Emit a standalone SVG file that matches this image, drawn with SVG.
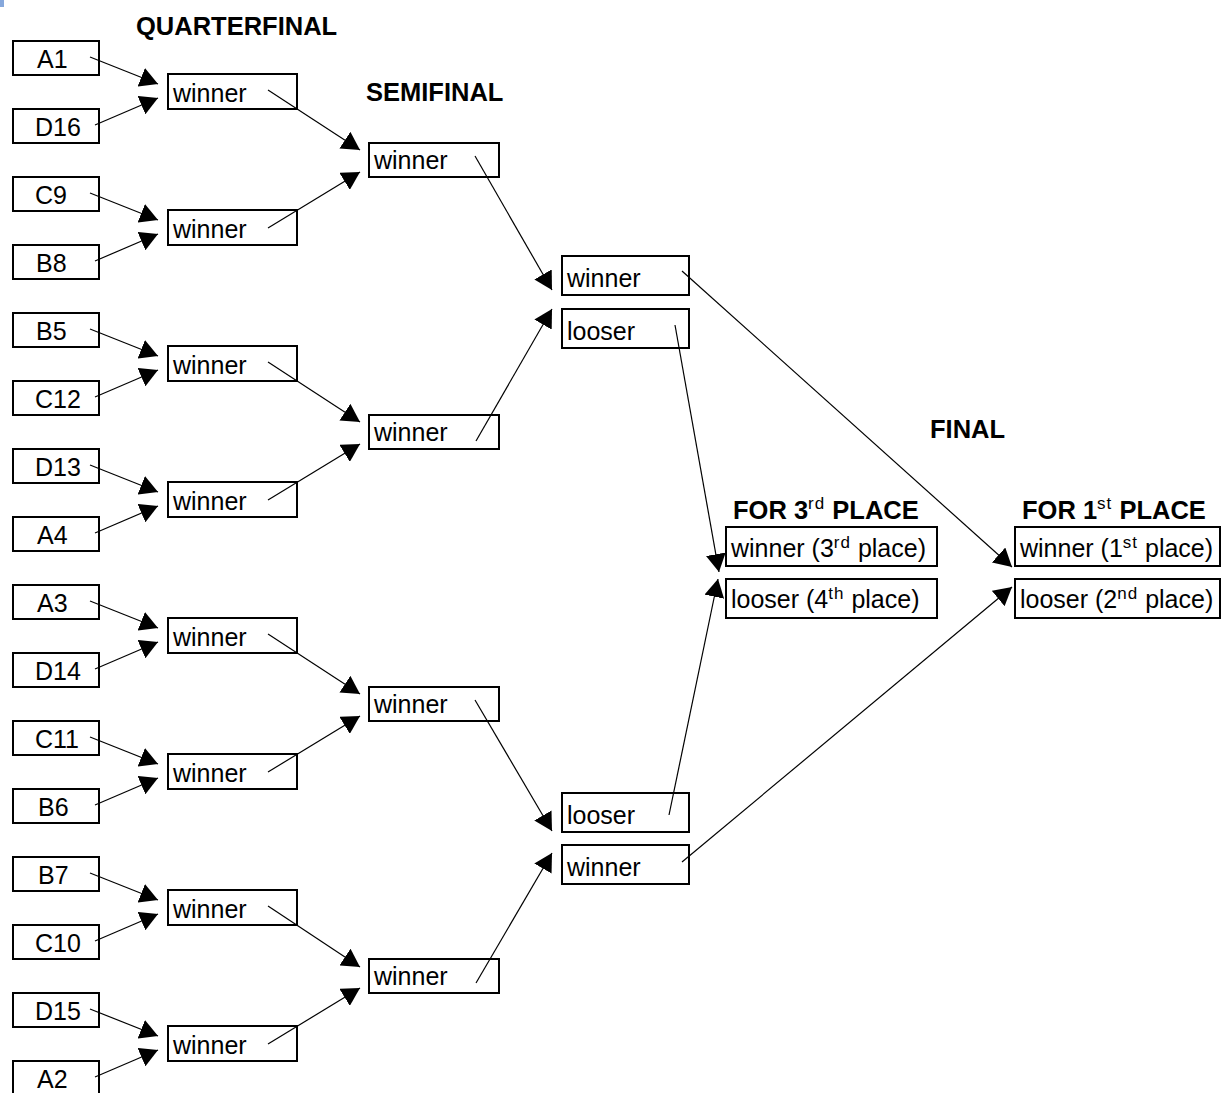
<svg xmlns="http://www.w3.org/2000/svg" width="1222" height="1093" viewBox="0 0 1222 1093">
<style>
.box{fill:#fff;stroke:#000;stroke-width:2}
.t{font-family:"Liberation Sans",Arial,sans-serif;font-size:25px;fill:#000}
.h{font-family:"Liberation Sans",Arial,sans-serif;font-size:25.5px;font-weight:bold;fill:#000}
.sup{font-size:17px;font-weight:normal;letter-spacing:1px}
.c line{stroke:#000;stroke-width:1.2;fill:none;marker-end:url(#ah)}
</style>
<defs>
<marker id="ah" markerUnits="userSpaceOnUse" viewBox="0 0 18 20" markerWidth="18" markerHeight="20" refX="18" refY="10" orient="auto">
<path d="M0,0 L18,10 L0,20 z" fill="#000"/>
</marker>
</defs>
<rect width="1222" height="1093" fill="#fff"/>
<rect x="0" y="0" width="4" height="7" fill="#86a8dc"/>

<g id="headers">
<text class="h" x="136" y="35">QUARTERFINAL</text>
<text class="h" x="366" y="101">SEMIFINAL</text>
<text class="h" x="930" y="438">FINAL</text>
<text class="h" x="733" y="519">FOR 3<tspan class="sup" dy="-10">rd</tspan><tspan dy="10"> PLACE</tspan></text>
<text class="h" x="1022" y="519">FOR 1<tspan class="sup" dy="-10">st</tspan><tspan dy="10"> PLACE</tspan></text>
</g>

<g id="seed-A1"><rect class="box" x="13" y="41" width="86" height="34"/><text class="t" x="37" y="68">A1</text></g>
<g id="seed-D16"><rect class="box" x="13" y="109" width="86" height="34"/><text class="t" x="35" y="136">D16</text></g>
<g id="seed-C9"><rect class="box" x="13" y="177" width="86" height="34"/><text class="t" x="35" y="204">C9</text></g>
<g id="seed-B8"><rect class="box" x="13" y="245" width="86" height="34"/><text class="t" x="36" y="272">B8</text></g>
<g id="seed-B5"><rect class="box" x="13" y="313" width="86" height="34"/><text class="t" x="36" y="340">B5</text></g>
<g id="seed-C12"><rect class="box" x="13" y="381" width="86" height="34"/><text class="t" x="35" y="408">C12</text></g>
<g id="seed-D13"><rect class="box" x="13" y="449" width="86" height="34"/><text class="t" x="35" y="476">D13</text></g>
<g id="seed-A4"><rect class="box" x="13" y="517" width="86" height="34"/><text class="t" x="37" y="544">A4</text></g>
<g id="seed-A3"><rect class="box" x="13" y="585" width="86" height="34"/><text class="t" x="37" y="612">A3</text></g>
<g id="seed-D14"><rect class="box" x="13" y="653" width="86" height="34"/><text class="t" x="35" y="680">D14</text></g>
<g id="seed-C11"><rect class="box" x="13" y="721" width="86" height="34"/><text class="t" x="35" y="748">C11</text></g>
<g id="seed-B6"><rect class="box" x="13" y="789" width="86" height="34"/><text class="t" x="38" y="816">B6</text></g>
<g id="seed-B7"><rect class="box" x="13" y="857" width="86" height="34"/><text class="t" x="38" y="884">B7</text></g>
<g id="seed-C10"><rect class="box" x="13" y="925" width="86" height="34"/><text class="t" x="35" y="952">C10</text></g>
<g id="seed-D15"><rect class="box" x="13" y="993" width="86" height="34"/><text class="t" x="35" y="1020">D15</text></g>
<g id="seed-A2"><rect class="box" x="13" y="1061" width="86" height="34"/><text class="t" x="37" y="1088">A2</text></g>

<g id="qf1"><rect class="box" x="168" y="74" width="129" height="35"/><text class="t" x="173" y="102">winner</text></g>
<g id="qf2"><rect class="box" x="168" y="210" width="129" height="35"/><text class="t" x="173" y="238">winner</text></g>
<g id="qf3"><rect class="box" x="168" y="346" width="129" height="35"/><text class="t" x="173" y="374">winner</text></g>
<g id="qf4"><rect class="box" x="168" y="482" width="129" height="35"/><text class="t" x="173" y="510">winner</text></g>
<g id="qf5"><rect class="box" x="168" y="618" width="129" height="35"/><text class="t" x="173" y="646">winner</text></g>
<g id="qf6"><rect class="box" x="168" y="754" width="129" height="35"/><text class="t" x="173" y="782">winner</text></g>
<g id="qf7"><rect class="box" x="168" y="890" width="129" height="35"/><text class="t" x="173" y="918">winner</text></g>
<g id="qf8"><rect class="box" x="168" y="1026" width="129" height="35"/><text class="t" x="173" y="1054">winner</text></g>

<g id="sf1"><rect class="box" x="369" y="143" width="130" height="34"/><text class="t" x="374" y="169">winner</text></g>
<g id="sf2"><rect class="box" x="369" y="415" width="130" height="34"/><text class="t" x="374" y="441">winner</text></g>
<g id="sf3"><rect class="box" x="369" y="687" width="130" height="34"/><text class="t" x="374" y="713">winner</text></g>
<g id="sf4"><rect class="box" x="369" y="959" width="130" height="34"/><text class="t" x="374" y="985">winner</text></g>

<g id="f1-winner"><rect class="box" x="562" y="256" width="127" height="39"/><text class="t" x="567" y="287">winner</text></g>
<g id="f1-looser"><rect class="box" x="562" y="309" width="127" height="39"/><text class="t" x="567" y="340">looser</text></g>
<g id="f2-looser"><rect class="box" x="562" y="793" width="127" height="39"/><text class="t" x="567" y="824">looser</text></g>
<g id="f2-winner"><rect class="box" x="562" y="845" width="127" height="39"/><text class="t" x="567" y="876">winner</text></g>

<g id="third-winner"><rect class="box" x="726" y="527" width="211" height="39"/><text class="t" x="731" y="557">winner (3<tspan class="sup" dy="-9">rd</tspan><tspan dy="9"> place)</tspan></text></g>
<g id="third-looser"><rect class="box" x="726" y="579" width="211" height="39"/><text class="t" x="731" y="608">looser (4<tspan class="sup" dy="-9">th</tspan><tspan dy="9"> place)</tspan></text></g>
<g id="first-winner"><rect class="box" x="1015" y="527" width="205" height="39"/><text class="t" x="1020" y="557">winner (1<tspan class="sup" dy="-9">st</tspan><tspan dy="9"> place)</tspan></text></g>
<g id="first-looser"><rect class="box" x="1015" y="579" width="205" height="39"/><text class="t" x="1020" y="608">looser (2<tspan class="sup" dy="-9">nd</tspan><tspan dy="9"> place)</tspan></text></g>

<g id="connectors" class="c">
<line x1="90" y1="57" x2="158" y2="84"/>
<line x1="95" y1="125" x2="158" y2="98"/>
<line x1="90" y1="193" x2="158" y2="220"/>
<line x1="95" y1="261" x2="158" y2="234"/>
<line x1="90" y1="329" x2="158" y2="356"/>
<line x1="95" y1="397" x2="158" y2="370"/>
<line x1="90" y1="465" x2="158" y2="492"/>
<line x1="95" y1="533" x2="158" y2="506"/>
<line x1="90" y1="601" x2="158" y2="628"/>
<line x1="95" y1="669" x2="158" y2="642"/>
<line x1="90" y1="737" x2="158" y2="764"/>
<line x1="95" y1="805" x2="158" y2="778"/>
<line x1="90" y1="873" x2="158" y2="900"/>
<line x1="95" y1="941" x2="158" y2="914"/>
<line x1="90" y1="1009" x2="158" y2="1036"/>
<line x1="95" y1="1077" x2="158" y2="1050"/>

<line x1="268" y1="90" x2="360" y2="150"/>
<line x1="268" y1="228" x2="360" y2="172"/>
<line x1="268" y1="362" x2="360" y2="422"/>
<line x1="268" y1="500" x2="360" y2="444"/>
<line x1="268" y1="634" x2="360" y2="694"/>
<line x1="268" y1="772" x2="360" y2="716"/>
<line x1="268" y1="906" x2="360" y2="967"/>
<line x1="268" y1="1044" x2="360" y2="988"/>

<line x1="475" y1="156" x2="552" y2="290"/>
<line x1="476" y1="441" x2="552" y2="309"/>
<line x1="475" y1="700" x2="552" y2="831"/>
<line x1="476" y1="983" x2="552" y2="853"/>

<line x1="682" y1="271" x2="1012" y2="567"/>
<line x1="675" y1="325" x2="719" y2="572"/>
<line x1="669" y1="815" x2="718" y2="579"/>
<line x1="682" y1="862" x2="1012" y2="587"/>
</g>
</svg>
